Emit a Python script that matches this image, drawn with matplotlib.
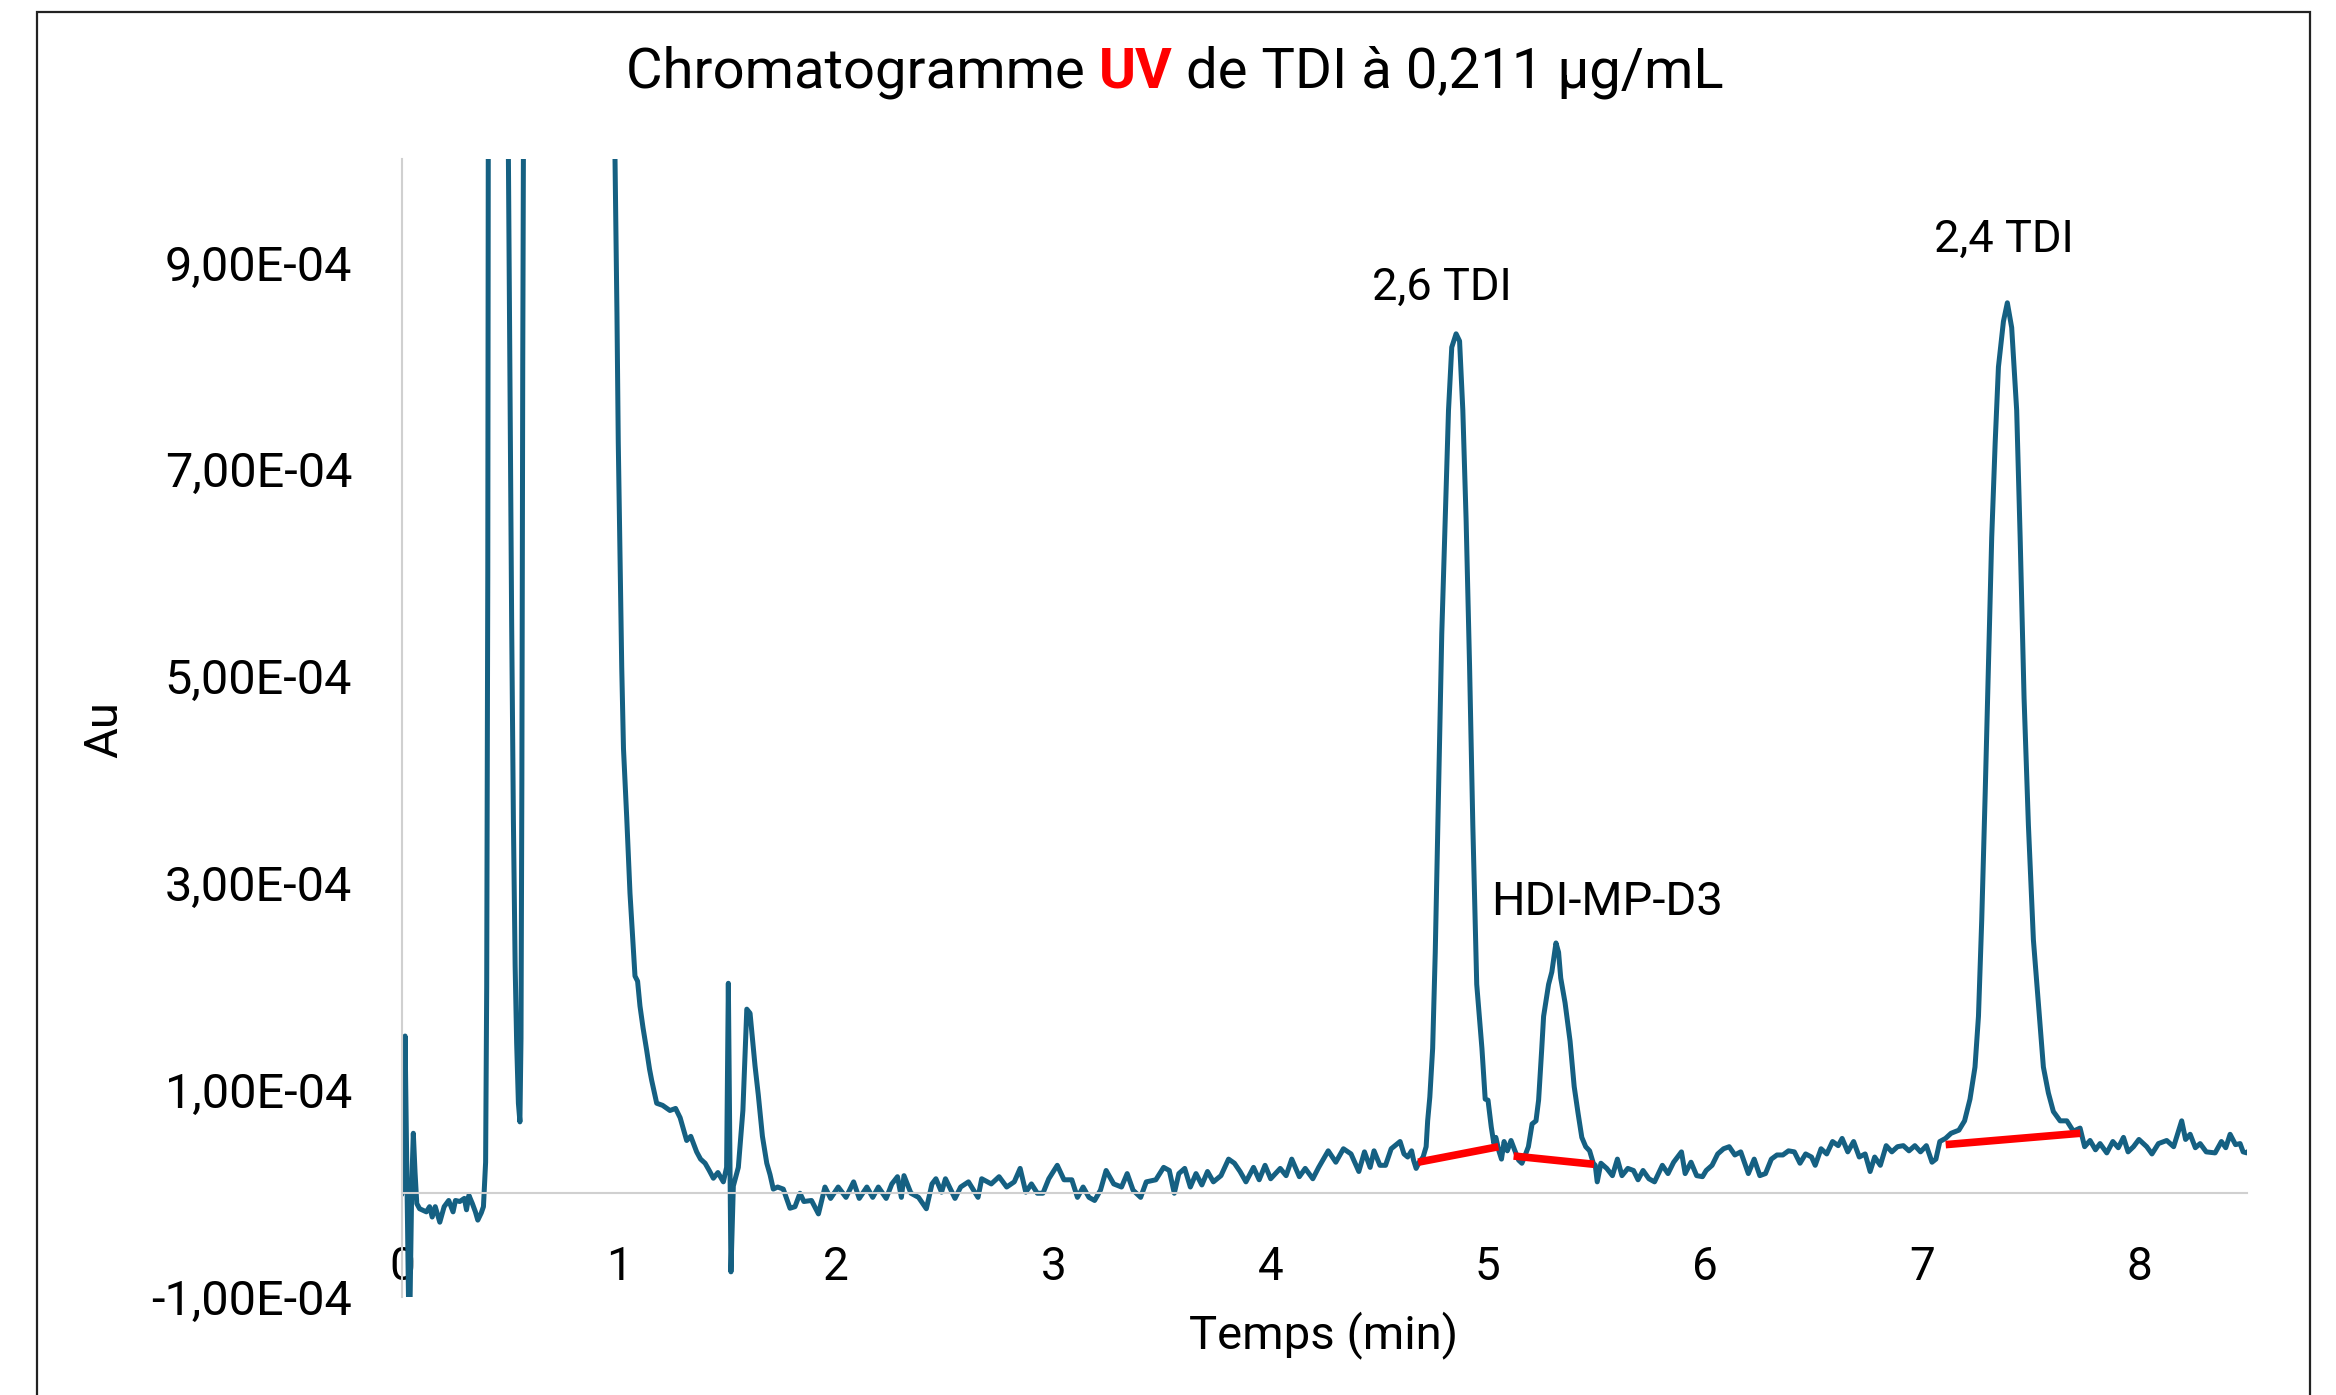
import matplotlib
matplotlib.use("Agg")
import matplotlib.pyplot as plt
from matplotlib.patches import Rectangle

# --- data (time in min, absorbance in 1e-4 Au) ---
t_min = [
    0.000, 0.008, 0.014, 0.022, 0.030, 0.037, 0.045, 0.052, 0.060, 0.068, 0.081,
    0.112, 0.127, 0.139, 0.153, 0.174, 0.194, 0.215, 0.235, 0.246, 0.266, 0.287,
    0.297, 0.308, 0.324, 0.338, 0.349, 0.365, 0.375, 0.385, 0.390, 0.395, 0.400,
    0.440, 0.480, 0.490, 0.505, 0.513, 0.521, 0.528, 0.536, 0.543, 0.548, 0.552,
    0.556, 0.559, 0.565, 0.600, 0.800, 0.950, 0.975, 0.981, 0.990, 0.996, 1.005,
    1.012, 1.020, 1.035, 1.050, 1.073, 1.085, 1.096, 1.110, 1.127, 1.140, 1.150,
    1.173, 1.200, 1.234, 1.260, 1.281, 1.311, 1.330, 1.357, 1.375, 1.396, 1.415,
    1.434, 1.455, 1.480, 1.495, 1.503, 1.515, 1.526, 1.549, 1.570, 1.588, 1.603,
    1.626, 1.641, 1.660, 1.680, 1.695, 1.710, 1.730, 1.756, 1.787, 1.810,
    1.833, 1.851, 1.886, 1.918, 1.948, 1.974, 2.009, 2.045, 2.080, 2.106, 2.141,
    2.168, 2.194, 2.230, 2.256, 2.282, 2.300, 2.312, 2.344, 2.379, 2.415, 2.441,
    2.459, 2.485, 2.503, 2.547, 2.573, 2.609, 2.653, 2.670, 2.714, 2.750, 2.785,
    2.820, 2.847, 2.873, 2.899, 2.926, 2.952, 2.979, 3.018, 3.049, 3.085, 3.111,
    3.137, 3.164, 3.190, 3.217, 3.243, 3.278, 3.314, 3.340, 3.367, 3.402, 3.428,
    3.472, 3.508, 3.534, 3.557, 3.578, 3.605, 3.631, 3.657, 3.684, 3.710, 3.737,
    3.772, 3.807, 3.834, 3.860, 3.887, 3.922, 3.948, 3.975, 4.001, 4.045, 4.072,
    4.098, 4.133, 4.160, 4.195, 4.222, 4.266, 4.301, 4.336, 4.371, 4.407, 4.433,
    4.459, 4.477, 4.504, 4.530, 4.556, 4.597, 4.615, 4.632, 4.650, 4.659, 4.671,
    4.685, 4.703, 4.717, 4.724, 4.734, 4.747, 4.759, 4.774, 4.789, 4.805, 4.820,
    4.835, 4.855, 4.871, 4.886, 4.901, 4.917, 4.932, 4.950, 4.974, 4.989, 5.002,
    5.017, 5.029, 5.038, 5.052, 5.064, 5.076, 5.091, 5.108, 5.126, 5.143, 5.158,
    5.170, 5.188, 5.205, 5.223, 5.235, 5.249, 5.258, 5.281, 5.296, 5.315, 5.327,
    5.337, 5.357, 5.380, 5.399, 5.417, 5.434, 5.452, 5.470, 5.487, 5.496, 5.505,
    5.522, 5.549, 5.575, 5.598, 5.619, 5.646, 5.672, 5.693, 5.716, 5.743, 5.769,
    5.805, 5.831, 5.857, 5.893, 5.910, 5.937, 5.963, 5.990, 6.007, 6.034, 6.060,
    6.087, 6.113, 6.139, 6.166, 6.201, 6.228, 6.254, 6.280, 6.307, 6.333, 6.360,
    6.386, 6.413, 6.439, 6.465, 6.492, 6.509, 6.536, 6.562, 6.589, 6.615, 6.633,
    6.659, 6.686, 6.712, 6.739, 6.762, 6.783, 6.809, 6.836, 6.862, 6.888, 6.915,
    6.941, 6.968, 6.994, 7.021, 7.047, 7.065, 7.083, 7.109, 7.135, 7.171, 7.197,
    7.222, 7.245, 7.261, 7.276, 7.292, 7.307, 7.322, 7.338, 7.353, 7.376, 7.394,
    7.414, 7.437, 7.453, 7.471, 7.491, 7.514, 7.537, 7.560, 7.583, 7.606, 7.637,
    7.668, 7.698, 7.729, 7.750, 7.775, 7.800, 7.821, 7.852, 7.880, 7.905, 7.929,
    7.950, 7.975, 8.000, 8.036, 8.060, 8.090, 8.128, 8.160, 8.197, 8.215, 8.236,
    8.260, 8.282, 8.310, 8.351, 8.380, 8.400, 8.420, 8.445, 8.466, 8.480, 8.497,
    8.510,
]
au_1e4 = [
    0.00, 0.05, 1.52, 0.20, -1.05, -1.05, 0.10, 0.58, 0.20, -0.10, -0.15,
    -0.18, -0.13, -0.23, -0.13, -0.28, -0.13, -0.07, -0.18, -0.07, -0.08, -0.05,
    -0.16, -0.02, -0.10, -0.18, -0.26, -0.19, -0.13, 0.30, 2.00, 6.00, 15.0,
    40.0, 15.0, 10.0, 5.50, 3.60, 2.20, 1.45, 0.87, 0.69, 1.50, 4.00,
    8.00, 10.0, 20.0, 40.0, 25.0, 14.0, 11.0, 10.0, 8.50, 7.26, 6.00,
    5.08, 4.30, 3.63, 2.90, 2.10, 2.05, 1.81, 1.60, 1.38, 1.20, 1.09,
    0.87, 0.85, 0.80, 0.82, 0.73, 0.51, 0.55, 0.40, 0.33, 0.29, 0.22,
    0.145, 0.20, 0.11, 0.25, 2.03, -0.76, 0.07, 0.25, 0.80, 1.78, 1.74,
    1.23, 0.95, 0.55, 0.29, 0.18, 0.04, 0.06, 0.04, -0.145, -0.13,
    0.00, -0.08, -0.07, -0.20, 0.06, -0.05, 0.06, -0.04, 0.11, -0.05, 0.06,
    -0.04, 0.06, -0.05, 0.09, 0.16, -0.04, 0.17, 0.00, -0.04, -0.15, 0.09,
    0.14, 0.01, 0.14, -0.05, 0.06, 0.11, -0.04, 0.14, 0.09, 0.16, 0.06,
    0.11, 0.24, 0.01, 0.09, 0.00, 0.00, 0.14, 0.27, 0.13, 0.13, -0.04,
    0.06, -0.04, -0.07, 0.03, 0.22, 0.09, 0.06, 0.19, 0.03, -0.04, 0.11,
    0.13, 0.25, 0.22, 0.00, 0.19, 0.24, 0.06, 0.19, 0.08, 0.21, 0.11,
    0.17, 0.33, 0.29, 0.21, 0.11, 0.25, 0.13, 0.27, 0.14, 0.24, 0.17,
    0.33, 0.16, 0.24, 0.14, 0.25, 0.41, 0.30, 0.43, 0.38, 0.21, 0.40,
    0.25, 0.41, 0.27, 0.27, 0.43, 0.50, 0.38, 0.35, 0.41, 0.32, 0.24,
    0.30, 0.35, 0.45, 0.70, 0.93, 1.40, 2.33, 3.87, 5.41, 6.52, 7.57,
    8.18, 8.31, 8.24, 7.57, 6.52, 5.10, 3.56, 2.02, 1.40, 0.91, 0.90,
    0.64, 0.48, 0.54, 0.41, 0.33, 0.50, 0.41, 0.51, 0.41, 0.32, 0.29,
    0.35, 0.45, 0.67, 0.70, 0.90, 1.38, 1.71, 2.02, 2.14, 2.42, 2.33,
    2.08, 1.84, 1.47, 1.03, 0.77, 0.54, 0.45, 0.41, 0.29, 0.27, 0.11,
    0.29, 0.24, 0.17, 0.33, 0.17, 0.24, 0.22, 0.13, 0.22, 0.14, 0.11,
    0.27, 0.19, 0.30, 0.40, 0.19, 0.30, 0.17, 0.16, 0.22, 0.27, 0.38,
    0.43, 0.45, 0.37, 0.40, 0.19, 0.33, 0.17, 0.19, 0.33, 0.37, 0.37,
    0.41, 0.40, 0.29, 0.38, 0.35, 0.27, 0.43, 0.38, 0.50, 0.46, 0.53,
    0.40, 0.50, 0.35, 0.38, 0.21, 0.35, 0.27, 0.46, 0.40, 0.45, 0.46,
    0.41, 0.46, 0.40, 0.46, 0.30, 0.33, 0.50, 0.53, 0.58, 0.61, 0.70,
    0.91, 1.22, 1.71, 2.64, 3.87, 5.10, 6.34, 7.26, 7.99, 8.43, 8.61,
    8.37, 7.57, 6.34, 4.79, 3.56, 2.45, 1.84, 1.22, 0.97, 0.79, 0.70,
    0.70, 0.60, 0.63, 0.45, 0.51, 0.42, 0.48, 0.39, 0.50, 0.44, 0.54,
    0.40, 0.45, 0.52, 0.45, 0.38, 0.48, 0.51, 0.45, 0.70, 0.52, 0.57,
    0.44, 0.48, 0.40, 0.39, 0.50, 0.44, 0.57, 0.47, 0.48, 0.40, 0.39,
    0.42,
]

# integration baselines (start, end)
base_t = [[4.68, 5.05], [5.12, 5.49], [7.11, 7.73]]
base_au = [[0.30, 0.45], [0.36, 0.28], [0.47, 0.58]]

peak_names = ["2,6 TDI", "HDI-MP-D3", "2,4 TDI"]
peak_lbl_t = [4.79, 5.55, 7.38]
peak_lbl_au = [8.75, 2.82, 9.22]

x_ticks = [0, 1, 2, 3, 4, 5, 6, 7, 8]
y_ticks = [-1, 1, 3, 5, 7, 9]
y_labels = ["-1,00E-04", "1,00E-04", "3,00E-04", "5,00E-04", "7,00E-04", "9,00E-04"]

plt.rcParams["font.family"] = ["Roboto", "DejaVu Sans"]

line_col = "#156082"
axis_col = "#d0d0d0"

fig = plt.figure(figsize=(23.36, 13.95), dpi=100)
ax = fig.add_axes([0.1721, 0.0705, 0.9621 - 0.1721, 0.886 - 0.0705])

yv = [v * 1e-4 for v in au_1e4]
ax.plot(t_min, yv, color=line_col, lw=3.6, solid_joinstyle="round")
for bt, ba in zip(base_t, base_au):
    ax.plot(bt, [v * 1e-4 for v in ba], color="#ff0000", lw=5.5, solid_capstyle="butt")

for name, px, py in zip(peak_names, peak_lbl_t, peak_lbl_au):
    fs = 34 if name.startswith("HDI") else 32.5
    ax.text(px, py * 1e-4, name, ha="center", va="center", fontsize=fs)

ax.set_xlim(0, 8.5)
ax.set_ylim(-1e-4, 1e-3)
ax.set_xticks(x_ticks)
ax.set_xticklabels([str(v) for v in x_ticks])
ax.set_yticks([v * 1e-4 for v in y_ticks])
ax.set_yticklabels(y_labels)
ax.tick_params(axis="x", length=0, pad=37, labelsize=33)
ax.tick_params(axis="y", length=0, pad=36, labelsize=35)

for s in ["top", "right"]:
    ax.spines[s].set_visible(False)
ax.spines["bottom"].set_position(("data", 0))
ax.spines["bottom"].set_color(axis_col)
ax.spines["bottom"].set_linewidth(1.5)
ax.spines["left"].set_position(("data", 0))
ax.spines["left"].set_color(axis_col)
ax.spines["left"].set_linewidth(1.5)

fig.text(1324 / 2336, 1 - 1335 / 1395, "Temps (min)", ha="center", va="center", fontsize=34)
fig.text(104 / 2336, 1 - 730 / 1395, "Au", ha="center", va="center", fontsize=34, rotation=90)

# title with red bold "UV"
parts = [("Chromatogramme ", "black", "normal"), ("UV", "#ff0000", "bold"), (" de TDI à 0,211 µg/mL", "black", "normal")]
fig.canvas.draw()
r = fig.canvas.get_renderer()
objs = []
for txt, c, w in parts:
    t = fig.text(0, 1 - 72 / 1395, txt, color=c, fontweight=w, fontsize=40.5, va="center", ha="left")
    objs.append(t)
widths = [o.get_window_extent(r).width for o in objs]
x0 = 1175 - sum(widths) / 2
for o, w in zip(objs, widths):
    o.set_x(x0 / 2336)
    x0 += w

fig.add_artist(Rectangle((37 / 2336, -0.05), (2310 - 37) / 2336, 1.05 - 12 / 1395,
                         transform=fig.transFigure, fill=False, edgecolor="#222222", lw=1.6))

fig.savefig("out.png", dpi=100, facecolor="white")
